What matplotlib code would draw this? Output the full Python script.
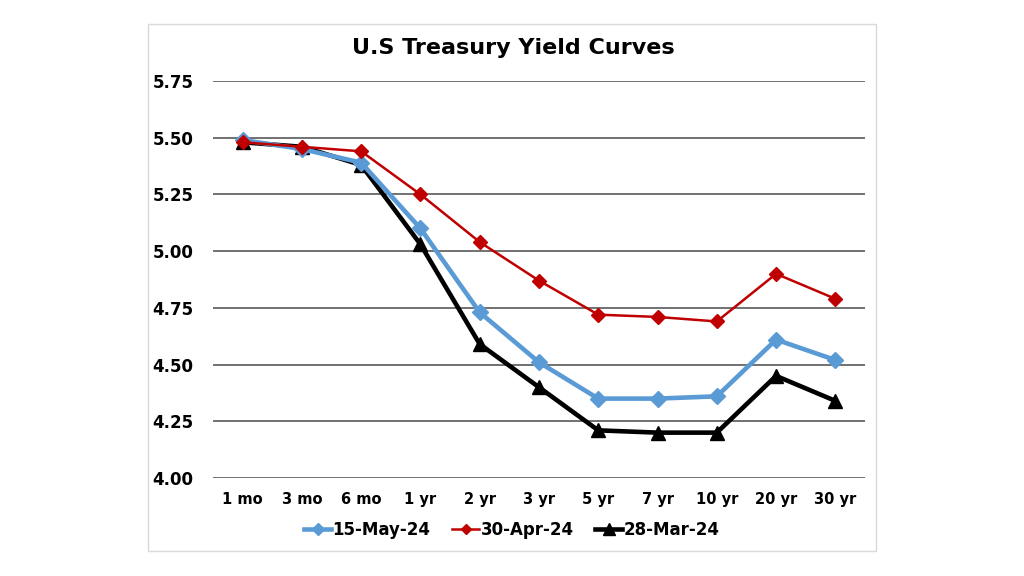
import matplotlib.pyplot as plt
from matplotlib.patches import Rectangle

tenors = ["1 mo", "3 mo", "6 mo", "1 yr", "2 yr", "3 yr", "5 yr", "7 yr", "10 yr", "20 yr", "30 yr"]
may15 = [5.49, 5.45, 5.39, 5.10, 4.73, 4.51, 4.35, 4.35, 4.36, 4.61, 4.52]
apr30 = [5.48, 5.46, 5.44, 5.25, 5.04, 4.87, 4.72, 4.71, 4.69, 4.90, 4.79]
mar28 = [5.48, 5.46, 5.38, 5.03, 4.59, 4.40, 4.21, 4.20, 4.20, 4.45, 4.34]
yticks = [4.00, 4.25, 4.50, 4.75, 5.00, 5.25, 5.50, 5.75]

plt.rcParams['font.family'] = ['DejaVu Sans']

fig = plt.figure(figsize=(10.24, 5.76), dpi=100)
# outer chart frame
fig.patches.append(Rectangle((148 / 1024, 1 - 551 / 576), 728 / 1024, 527 / 576,
                             transform=fig.transFigure, fill=False,
                             edgecolor="#d9d9d9", linewidth=1))

ax = fig.add_axes([213 / 1024, 1 - 478 / 576, 652 / 1024, 397 / 576])
x = range(len(tenors))

ax.plot(x, may15, color="#5b9bd5", linewidth=3.3, marker="D", markersize=8, label="15-May-24", zorder=3)
ax.plot(x, apr30, color="#c00000", linewidth=1.8, marker="D", markersize=7, label="30-Apr-24", zorder=4)
ax.plot(x, mar28, color="black", linewidth=3.3, marker="^", markersize=10, label="28-Mar-24", zorder=2)

ax.set_xlim(-0.5, len(tenors) - 0.5)
ax.set_ylim(4.0, 5.75)
ax.set_yticks(yticks)
ax.set_yticklabels([f"{v:.2f}" for v in yticks], fontsize=12, fontweight="bold")
ax.set_xticks(list(x))
ax.set_xticklabels(tenors, fontsize=10.5, fontweight="bold")
ax.tick_params(length=0, axis="y", pad=14)
ax.tick_params(length=0, axis="x", pad=10)
ax.grid(axis="y", color="#595959", linewidth=1.2)
ax.set_axisbelow(True)
for s in ax.spines.values():
    s.set_visible(False)

fig.text(513 / 1024, 1 - 48 / 576, "U.S Treasury Yield Curves", ha="center", va="center",
         fontsize=16, fontweight="bold")

fig.legend(loc="center", bbox_to_anchor=(512 / 1024, 1 - 530 / 576), ncol=3, frameon=False,
           prop={"size": 12, "weight": "bold"}, handlelength=1.6, handletextpad=0.1,
           columnspacing=1.3, markerscale=0.8)

fig.savefig("out.png", dpi=100)
